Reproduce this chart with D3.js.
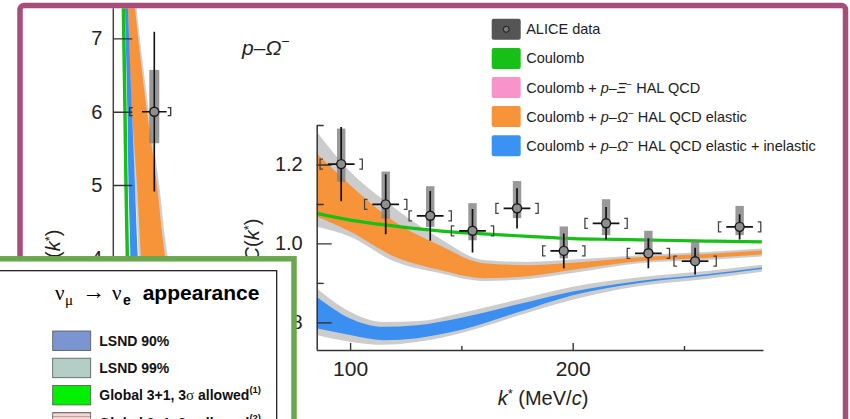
<!DOCTYPE html>
<html>
<head>
<meta charset="utf-8">
<title>p–Ω⁻ correlation</title>
<style>
  body { margin: 0; background: #fff; }
  svg { display: block; font-family: "Liberation Sans", Arial, sans-serif; }
</style>
</head>
<body>
<script src="https://cdn.jsdelivr.net/npm/d3@7"></script>
<script>
var width = 850, height = 419;

// inset: ALICE p–Ω⁻ data points
var kData   = [96, 116, 136, 155, 175, 196, 215, 234, 255, 275];
var cData   = [1.201, 1.099, 1.070, 1.032, 1.089, 0.981, 1.051, 0.975, 0.955, 1.042];
var statErr = [0.094, 0.076, 0.063, 0.055, 0.051, 0.044, 0.041, 0.038, 0.034, 0.032];
var sysUp   = [0.090, 0.083, 0.075, 0.070, 0.069, 0.062, 0.061, 0.057, 0.051, 0.053];
var sysDown = [0.045, 0.036, 0.028, 0.024, 0.025, 0.019, 0.030, 0.009, 0.005, 0.021];
var kErr = 6, binHalf = 9.5;

// inset: Coulomb only
var kCoul = [85, 100, 120, 140, 160, 180, 200, 220, 240, 260, 285];
var cCoul = [1.076, 1.059, 1.044, 1.032, 1.024, 1.018, 1.012, 1.010, 1.008, 1.006, 1.004];

// inset: Coulomb + HAL QCD elastic (orange) and its grey envelope
var kEl   = [85, 100, 120, 140, 160, 180, 200, 230, 260, 285];
var elLo  = [1.068, 1.030, 0.966, 0.933, 0.912, 0.917, 0.933, 0.955, 0.963, 0.972];
var elHi  = [1.228, 1.148, 1.055, 0.996, 0.950, 0.945, 0.951, 0.965, 0.973, 0.982];
var elGLo = [1.042, 1.017, 0.954, 0.925, 0.905, 0.910, 0.925, 0.950, 0.958, 0.967];
var elGHi = [1.283, 1.182, 1.090, 1.014, 0.958, 0.953, 0.959, 0.970, 0.978, 0.987];

// inset: Coulomb + HAL QCD elastic + inelastic (blue) and its grey envelope
var kIn   = [85, 100, 115, 130, 150, 175, 200, 230, 260, 285];
var inLo  = [0.785, 0.768, 0.755, 0.760, 0.781, 0.825, 0.869, 0.900, 0.918, 0.935];
var inHi  = [0.865, 0.810, 0.789, 0.793, 0.812, 0.845, 0.878, 0.905, 0.922, 0.939];
var inGLo = [0.768, 0.751, 0.743, 0.750, 0.773, 0.816, 0.857, 0.892, 0.910, 0.928];
var inGHi = [0.886, 0.827, 0.801, 0.803, 0.824, 0.857, 0.890, 0.914, 0.930, 0.946];

var insetYMajor = [0.8, 1.0, 1.2], insetYMinor = [0.9, 1.1, 1.3];
var insetXMajor = [100, 200],      insetXMinor = [150, 250];

// full-range panel behind the inset (curves given as k for each C level)
var cBig      = [7.6, 7.43, 6, 5, 4.25, 3.4];
var coulBigK  = [2.4, 2.45, 2.85, 3.1, 3.35, 3.6];
var inBigLo   = [2.8, 2.85, 3.45, 3.7, 4.07, 4.35];
var inBigHi   = [3.55, 3.59, 4.56, 5.29, 5.78, 6.5];
var elBigLo   = [3.55, 3.59, 4.56, 5.78, 6.5, 7.2];
var elBigHi   = [5.17, 5.29, 8.22, 10.66, 12.1, 14.3];
var elBigGLo  = [3.4, 3.45, 4.3, 5.3, 6.0, 6.6];
var elBigGHi  = [5.5, 5.65, 8.7, 11.2, 12.7, 15.0];
var kBig = [10], cBigPt = [6.0], statBig = [1.09], sysUpBig = [0.57], sysDownBig = [0.43];
var bigYTicks = [4, 5, 6, 7];

// legends
var legendColors = ["#555555", "#16c016", "#f794c9", "#f7943a", "#3a93f2"];
var nuLabels = ["LSND 90%", "LSND 99%", "Global 3+1, 3σ allowed", "Global 3+1, 2σ allowed"];
var nuNotes  = ["", "", "(1)", "(2)"];
var nuColors = ["#7b95d0", "#b2cec6", "#00f000", "#f3d8d8"];

var svg = d3.select("body").append("svg")
    .attr("width", width).attr("height", height)
    .attr("viewBox", [0, 0, width, height]);

var defs = svg.append("defs");
defs.append("clipPath").attr("id", "frameClip")
  .append("rect").attr("x", 22.7).attr("y", 8.3).attr("width", 820.3).attr("height", 420);
defs.append("clipPath").attr("id", "insetClip")
  .append("rect").attr("x", 316.7).attr("y", 125).attr("width", 446.3).attr("height", 225);
var stripe = defs.append("pattern").attr("id", "stripes")
    .attr("patternUnits", "userSpaceOnUse").attr("width", 6).attr("height", 3.5);
stripe.append("rect").attr("width", 6).attr("height", 3.5).attr("fill", nuColors[3]);
stripe.append("rect").attr("width", 6).attr("height", 1).attr("fill", "#c89a9a");

var frameG = svg.append("g").attr("clip-path", "url(#frameClip)");

// ---------- full-range panel ----------
var xB = d3.scaleLinear().domain([0, 40]).range([113.3, 277.3]);
var yB = d3.scaleLinear().domain([4, 7]).range([258.3, 38.4]);

var bigRows = function (lo, hi) { return cBig.map(function (c, i) { return {c: c, lo: lo[i], hi: hi[i]}; }); };
var bigArea = d3.area().y(function (d) { return yB(d.c); })
    .x0(function (d) { return xB(d.lo); }).x1(function (d) { return xB(d.hi); })
    .curve(d3.curveCatmullRom);

var big = frameG.append("g");
big.append("path").datum(bigRows(elBigGLo, elBigGHi)).attr("fill", "#cfcfcf").attr("d", bigArea);
big.append("path").datum(bigRows(elBigLo, elBigHi)).attr("fill", "#f7943a").attr("d", bigArea);
big.append("path").datum(bigRows(inBigLo, inBigHi)).attr("fill", "#3a8ff0").attr("d", bigArea);
big.append("path").datum(cBig.map(function (c, i) { return {c: c, k: coulBigK[i]}; }))
    .attr("fill", "none").attr("stroke", "#16c016").attr("stroke-width", 3.5)
    .attr("d", d3.line().y(function (d) { return yB(d.c); }).x(function (d) { return xB(d.k); }).curve(d3.curveCatmullRom));

big.append("line").attr("x1", xB(0)).attr("x2", xB(0)).attr("y1", 0).attr("y2", height)
    .attr("stroke", "#444").attr("stroke-width", 1.5);
big.append("g").attr("transform", "translate(" + xB(0) + ",0)")
    .call(d3.axisLeft(yB).tickValues(bigYTicks).tickSize(-19).tickPadding(11).tickFormat(d3.format("d")))
    .call(function (g) { g.select(".domain").remove(); })
    .call(function (g) { g.selectAll("line").attr("stroke", "#333").attr("stroke-width", 1.4); })
    .call(function (g) { g.selectAll("text").attr("font-size", 20).attr("fill", "#222")
        .attr("font-family", "Liberation Sans, Arial, sans-serif"); });

var bigPts = kBig.map(function (k, i) { return {k: k, c: cBigPt[i], s: statBig[i], up: sysUpBig[i], dn: sysDownBig[i]}; });
var bp = big.selectAll(".bp").data(bigPts).join("g");
bp.append("rect").attr("x", function (d) { return xB(d.k) - 5; }).attr("width", 10)
    .attr("y", function (d) { return yB(d.c + d.up); })
    .attr("height", function (d) { return yB(d.c - d.dn) - yB(d.c + d.up); })
    .attr("fill", "#7f7f7f").attr("opacity", 0.8);
bp.append("line").attr("x1", function (d) { return xB(d.k); }).attr("x2", function (d) { return xB(d.k); })
    .attr("y1", function (d) { return yB(d.c + d.s); }).attr("y2", function (d) { return yB(d.c - d.s); })
    .attr("stroke", "#111").attr("stroke-width", 1.6);
bp.append("line").attr("x1", function (d) { return xB(d.k - 3); }).attr("x2", function (d) { return xB(d.k + 3); })
    .attr("y1", function (d) { return yB(d.c); }).attr("y2", function (d) { return yB(d.c); })
    .attr("stroke", "#111").attr("stroke-width", 1.6);
bp.append("path").attr("fill", "none").attr("stroke", "#333").attr("stroke-width", 1.3)
    .attr("d", function (d) {
      var l = xB(d.k - 6), r = xB(d.k + 4), yc = yB(d.c);
      return "M" + (l + 3) + "," + (yc - 4) + "H" + l + "V" + (yc + 4) + "H" + (l + 3) +
             "M" + (r - 3) + "," + (yc - 4) + "H" + r + "V" + (yc + 4) + "H" + (r - 3);
    });
bp.append("circle").attr("cx", function (d) { return xB(d.k); }).attr("cy", function (d) { return yB(d.c); })
    .attr("r", 4.5).attr("fill", "#8e8e8e").attr("stroke", "#1a1a1a").attr("stroke-width", 1.4);

var bigLab = big.append("text").attr("transform", "translate(53,251) rotate(-90)")
    .attr("text-anchor", "middle").attr("dy", "0.35em").attr("font-size", 20).attr("fill", "#222");
bigLab.append("tspan").attr("font-style", "italic").text("C");
bigLab.append("tspan").text("(");
bigLab.append("tspan").attr("font-style", "italic").text("k");
bigLab.append("tspan").attr("font-size", 13).attr("dy", -6).text("*");
bigLab.append("tspan").attr("dy", 6).text(")");

// ---------- inset ----------
var x = d3.scaleLinear().domain([85, 285.5]).range([316.7, 763]);
var y = d3.scaleLinear().domain([0.73, 1.3]).range([350, 125]);

var rows = function (ks, lo, hi) { return ks.map(function (k, i) { return {k: k, lo: lo[i], hi: hi[i]}; }); };
var band = d3.area().x(function (d) { return x(d.k); })
    .y0(function (d) { return y(d.lo); }).y1(function (d) { return y(d.hi); })
    .curve(d3.curveMonotoneX);

var inset = frameG.append("g");
var curves = inset.append("g").attr("clip-path", "url(#insetClip)");
curves.append("path").datum(rows(kEl, elGLo, elGHi)).attr("fill", "#cccccc").attr("d", band);
curves.append("path").datum(rows(kEl, elLo, elHi)).attr("fill", "#f7943a").attr("d", band);
curves.append("path").datum(rows(kIn, inGLo, inGHi)).attr("fill", "#cccccc").attr("d", band);
curves.append("path").datum(rows(kIn, inLo, inHi)).attr("fill", "#3a8ff0").attr("d", band);
curves.append("path").datum(kCoul.map(function (k, i) { return {k: k, c: cCoul[i]}; }))
    .attr("fill", "none").attr("stroke", "#16c016").attr("stroke-width", 3.2)
    .attr("d", d3.line().x(function (d) { return x(d.k); }).y(function (d) { return y(d.c); }).curve(d3.curveMonotoneX));

var styleAxis = function (g) {
  g.selectAll("line").attr("stroke", "#333").attr("stroke-width", 1.4);
  g.selectAll("text").attr("font-size", 20).attr("fill", "#222")
    .attr("font-family", "Liberation Sans, Arial, sans-serif");
};
inset.append("g").attr("transform", "translate(" + x.range()[0] + ",0)")
    .call(d3.axisLeft(y).tickValues(insetYMajor).tickSize(-15).tickSizeOuter(0).tickPadding(14).tickFormat(d3.format(".1f")))
    .call(styleAxis)
    .call(function (g) { g.select(".domain").attr("stroke", "#333").attr("stroke-width", 1.5); });
inset.append("g").attr("transform", "translate(" + x.range()[0] + ",0)")
    .call(d3.axisLeft(y).tickValues(insetYMinor).tickSize(-7).tickFormat(""))
    .call(styleAxis)
    .call(function (g) { g.select(".domain").remove(); });
inset.append("g").attr("transform", "translate(0," + y.range()[0] + ")")
    .call(d3.axisBottom(x).tickValues(insetXMajor).tickSize(-7).tickSizeOuter(0).tickPadding(11.5))
    .call(styleAxis)
    .call(function (g) { g.select(".domain").attr("stroke", "#333").attr("stroke-width", 1.5); })
    .call(function (g) { g.selectAll("text").attr("font-size", 21); });
inset.append("g").attr("transform", "translate(0," + y.range()[0] + ")")
    .call(d3.axisBottom(x).tickValues(insetXMinor).tickSize(-4).tickFormat(""))
    .call(styleAxis)
    .call(function (g) { g.select(".domain").remove(); });

var pts = kData.map(function (k, i) {
  return {k: k, c: cData[i], s: statErr[i], up: sysUp[i], dn: sysDown[i]};
});
var pg = inset.append("g").selectAll("g").data(pts).join("g");
pg.append("rect").attr("x", function (d) { return x(d.k) - 4.2; }).attr("width", 8.4)
    .attr("y", function (d) { return y(d.c + d.up); })
    .attr("height", function (d) { return y(d.c - d.dn) - y(d.c + d.up); })
    .attr("fill", "#7f7f7f").attr("opacity", 0.8);
pg.append("line").attr("x1", function (d) { return x(d.k); }).attr("x2", function (d) { return x(d.k); })
    .attr("y1", function (d) { return y(d.c + d.s); }).attr("y2", function (d) { return y(d.c - d.s); })
    .attr("stroke", "#111").attr("stroke-width", 1.7);
pg.append("line").attr("x1", function (d) { return x(d.k - kErr); }).attr("x2", function (d) { return x(d.k + kErr); })
    .attr("y1", function (d) { return y(d.c); }).attr("y2", function (d) { return y(d.c); })
    .attr("stroke", "#111").attr("stroke-width", 1.7);
pg.append("path").attr("fill", "none").attr("stroke", "#444").attr("stroke-width", 1.3)
    .attr("d", function (d) {
      var l = x(d.k - binHalf), r = x(d.k + binHalf), yc = y(d.c);
      return "M" + (l + 3) + "," + (yc - 5) + "H" + l + "V" + (yc + 5) + "H" + (l + 3) +
             "M" + (r - 3) + "," + (yc - 5) + "H" + r + "V" + (yc + 5) + "H" + (r - 3);
    });
pg.append("circle").attr("cx", function (d) { return x(d.k); }).attr("cy", function (d) { return y(d.c); })
    .attr("r", 4.5).attr("fill", "#8e8e8e").attr("stroke", "#1a1a1a").attr("stroke-width", 1.4);

// title p–Ω⁻
var ttl = inset.append("text").attr("x", 242).attr("y", 55).attr("font-size", 21).attr("fill", "#222");
ttl.append("tspan").attr("font-style", "italic").text("p");
ttl.append("tspan").text("–");
ttl.append("tspan").attr("font-style", "italic").text("Ω");
ttl.append("tspan").attr("font-size", 14).attr("dy", -9).text("−");

// axis titles
var xl = inset.append("text").attr("x", 543).attr("y", 405).attr("text-anchor", "middle")
    .attr("font-size", 20).attr("fill", "#222");
xl.append("tspan").attr("font-style", "italic").text("k");
xl.append("tspan").attr("font-size", 13).attr("dy", -7).text("*");
xl.append("tspan").attr("dy", 7).text(" (MeV/");
xl.append("tspan").attr("font-style", "italic").text("c");
xl.append("tspan").text(")");

var yl = inset.append("text").attr("transform", "translate(252,240) rotate(-90)")
    .attr("text-anchor", "middle").attr("dy", "0.35em").attr("font-size", 20).attr("fill", "#222");
yl.append("tspan").attr("font-style", "italic").text("C");
yl.append("tspan").text("(");
yl.append("tspan").attr("font-style", "italic").text("k");
yl.append("tspan").attr("font-size", 13).attr("dy", -6).text("*");
yl.append("tspan").attr("dy", 6).text(")");

// ---------- legend, top right ----------
var leg = frameG.append("g").attr("transform", "translate(491.7,29.3)");
var legRow = leg.selectAll("g").data(legendColors).join("g")
    .attr("transform", function (d, i) { return "translate(0," + (i * 29.1) + ")"; });
legRow.append("rect").attr("x", 0).attr("y", -10.5).attr("width", 29).attr("height", 21).attr("rx", 2)
    .attr("fill", function (d) { return d; });
leg.append("circle").attr("cx", 14.5).attr("cy", 0).attr("r", 3)
    .attr("fill", "#777").attr("stroke", "#1a1a1a").attr("stroke-width", 1);

var legText = legRow.append("text").attr("x", 34.5).attr("dy", "0.35em")
    .attr("font-size", 14.5).attr("fill", "#222");
legText.each(function (d, i) {
  var t = d3.select(this);
  if (i === 0) { t.text("ALICE data"); return; }
  if (i === 1) { t.text("Coulomb"); return; }
  t.append("tspan").text("Coulomb + ");
  t.append("tspan").attr("font-style", "italic").text("p");
  t.append("tspan").text("–");
  t.append("tspan").attr("font-style", "italic").text(i === 2 ? "Ξ" : "Ω");
  t.append("tspan").attr("font-size", 10).attr("dy", -5).text("−");
  t.append("tspan").attr("dy", 5).text(i === 2 ? " HAL QCD" : i === 3 ? " HAL QCD elastic" : " HAL QCD elastic + inelastic");
});

// frame
svg.append("rect").attr("x", 20).attr("y", 5.5).attr("width", 825.5).attr("height", 460).attr("rx", 4)
    .attr("fill", "none").attr("stroke", "#a64d79").attr("stroke-width", 5.5);

// ---------- ν_μ → ν_e box ----------
var nb = svg.append("g");
nb.append("rect").attr("x", -10).attr("y", 258.8).attr("width", 304).attr("height", 220)
    .attr("fill", "#fff").attr("stroke", "#6aa84f").attr("stroke-width", 5.5);
nb.append("rect").attr("x", -10).attr("y", 270.7).attr("width", 286.7).attr("height", 200)
    .attr("fill", "#fff").attr("stroke", "#111").attr("stroke-width", 1.2);

var serif = "Liberation Serif, Times New Roman, serif";
nb.append("text").attr("x", 55).attr("y", 300).attr("font-family", serif).attr("font-size", 21).text("ν");
nb.append("text").attr("x", 65).attr("y", 305).attr("font-family", serif).attr("font-size", 15).text("μ");
nb.append("text").attr("x", 82).attr("y", 299).attr("font-family", serif).attr("font-size", 23).text("→");
nb.append("text").attr("x", 112).attr("y", 300).attr("font-family", serif).attr("font-size", 21).text("ν");
nb.append("text").attr("x", 123).attr("y", 305).attr("font-weight", "bold").attr("font-size", 14).text("e");
nb.append("text").attr("x", 142.7).attr("y", 300).attr("font-weight", "bold").attr("font-size", 21).text("appearance");

var nuRow = nb.selectAll(".nu").data(nuLabels).join("g")
    .attr("transform", function (d, i) { return "translate(0," + (331 + i * 27.2) + ")"; });
nuRow.append("rect").attr("x", 52.7).attr("y", 0).attr("width", 38).attr("height", 19.5)
    .attr("fill", function (d, i) { return i === 3 ? "url(#stripes)" : nuColors[i]; })
    .attr("stroke", "#555").attr("stroke-width", 0.8);
var nuText = nuRow.append("text").attr("x", 99.3).attr("y", 15).attr("font-weight", "bold")
    .attr("font-size", 14).attr("fill", "#111");
nuText.each(function (d, i) {
  var t = d3.select(this);
  var parts = d.split("σ");
  t.append("tspan").text(parts[0]);
  if (parts.length > 1) {
    t.append("tspan").attr("font-family", serif).attr("font-weight", "normal").attr("font-size", 15).text("σ");
    t.append("tspan").text(parts[1]);
  }
  if (nuNotes[i]) t.append("tspan").attr("font-size", 9.5).attr("dy", -7).text(nuNotes[i]);
});
</script>
</body>
</html>
